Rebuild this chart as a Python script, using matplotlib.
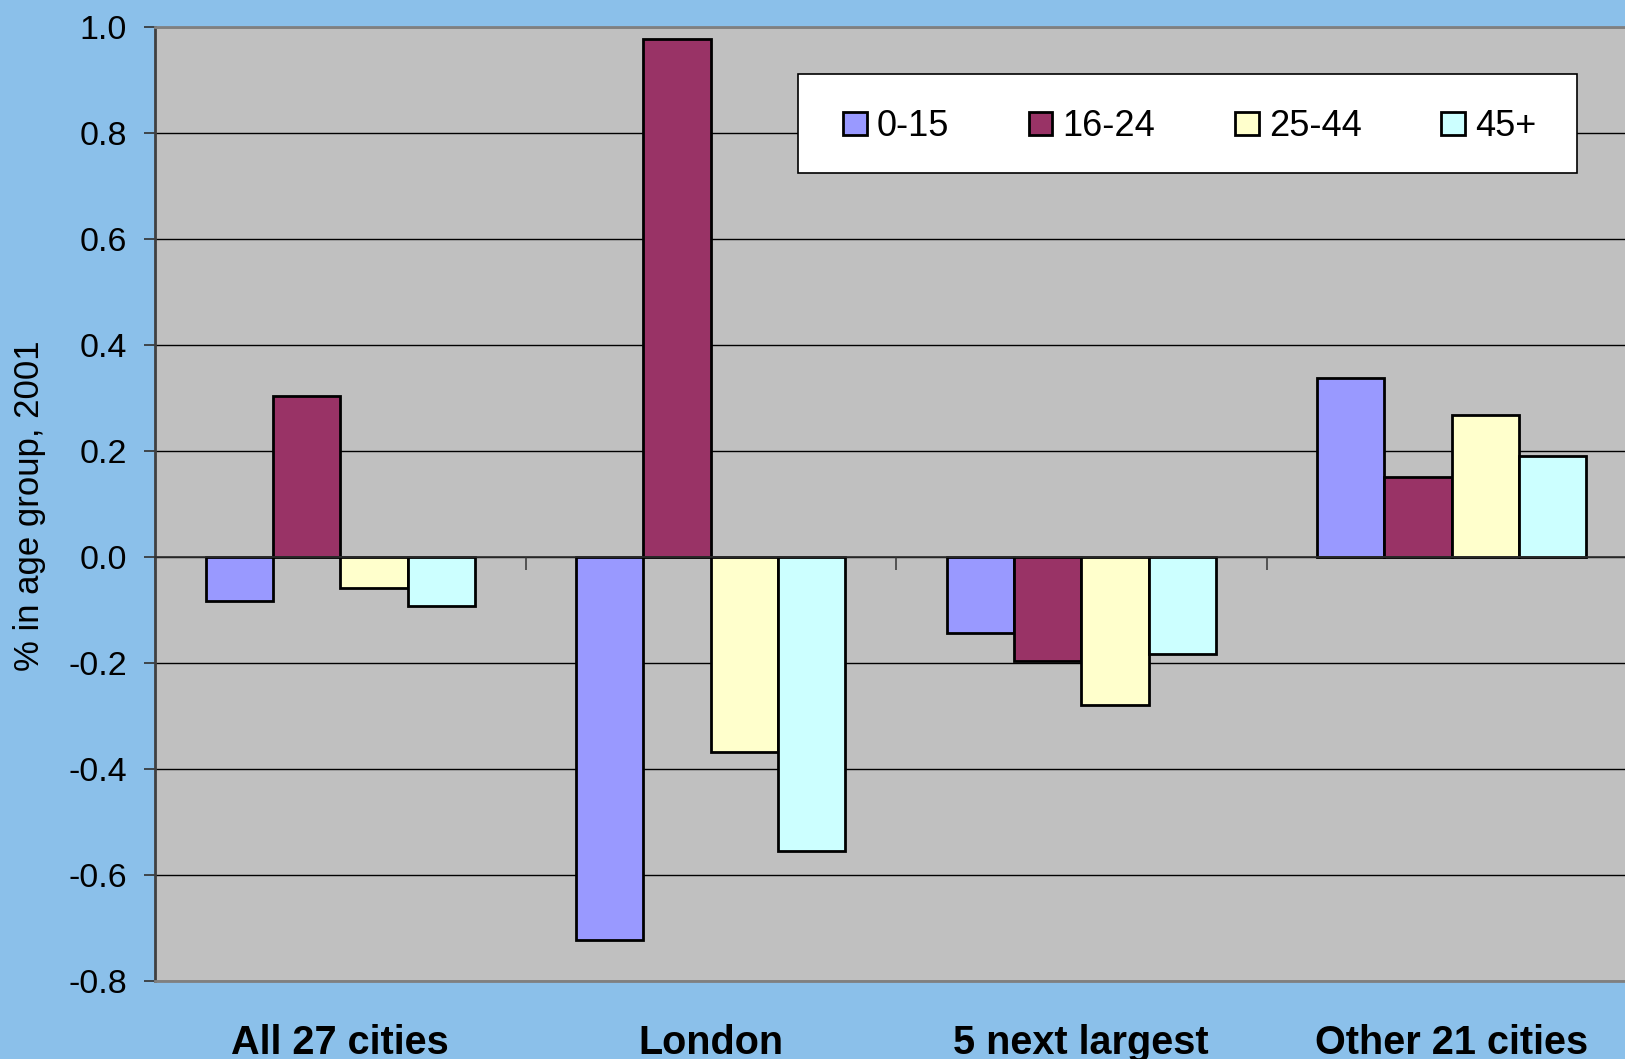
import numpy as np
import matplotlib.pyplot as plt
from matplotlib.patches import Rectangle

# values
categories = ['All 27 cities', 'London', '5 next largest', 'Other 21 cities']
age_groups = ['0-15', '16-24', '25-44', '45+']
vals_0_15 = [-0.083, -0.722, -0.144, 0.337]
vals_16_24 = [0.304, 0.977, -0.196, 0.151]
vals_25_44 = [-0.058, -0.367, -0.279, 0.267]
vals_45_plus = [-0.093, -0.554, -0.183, 0.191]
colors = ['#9999FF', '#993366', '#FFFFCC', '#CCFFFF']

plt.rcParams['font.family'] = ['Liberation Sans', 'DejaVu Sans']

W, H = 1625, 1059
fig = plt.figure(figsize=(W / 100, H / 100), dpi=100)
fig.patch.set_facecolor('#8BC0EA')

# plot area runs past the right edge of the picture, like the original
left, right, top, bottom = 155, 1637, 27, 981
ax = fig.add_axes([left / W, 1 - bottom / H, (right - left) / W, (bottom - top) / H])
ax.set_facecolor('#C0C0C0')
ax.set_axisbelow(True)

series = [vals_0_15, vals_16_24, vals_25_44, vals_45_plus]
n = len(categories)
idx = np.arange(n)
gap = 1.5  # excel gap width 150%
bw = 1 / (len(series) + gap)
for k, (vals, lab, col) in enumerate(zip(series, age_groups, colors)):
    xs = idx + (gap / 2 + k + 0.5) * bw
    ax.bar(xs, vals, width=bw, color=col, edgecolor='black', linewidth=2, label=lab, zorder=3)

ax.set_xlim(0, n)
ax.set_ylim(-0.8, 1.0)
ax.set_yticks(np.arange(-0.8, 1.01, 0.2))
ax.yaxis.set_major_formatter(plt.FuncFormatter(lambda v, p: f'{v:.1f}'.replace('-0.0', '0.0')))
ax.yaxis.grid(True, color='black', linewidth=1.0)
ax.tick_params(axis='y', direction='out', length=8, width=1.2, color='#303030',
               labelsize=24.5, pad=12)

ax.set_xticks(idx + 0.5)
ax.set_xticklabels(categories, fontsize=28.5, fontweight='bold')
ax.tick_params(axis='x', length=0, pad=31)

for s in ['top', 'right', 'bottom']:
    ax.spines[s].set_color('#808080')
    ax.spines[s].set_linewidth(2)
ax.spines['left'].set_color('#404040')
ax.spines['left'].set_linewidth(2)

# category axis crossing at zero, with its tick marks
ax2 = ax.twiny()
ax2.set_xlim(ax.get_xlim())
ax2.patch.set_visible(False)
for s in ['top', 'right', 'left']:
    ax2.spines[s].set_visible(False)
ax2.spines['bottom'].set_position(('data', 0))
ax2.spines['bottom'].set_color('#303030')
ax2.spines['bottom'].set_linewidth(1.2)
ax2.xaxis.set_ticks_position('bottom')
ax2.set_xticks(np.arange(n + 1))
ax2.set_xticklabels([])
ax2.tick_params(axis='x', direction='out', length=9.5, width=1.2, color='#404040')

fig.text(29.5 / W, 1 - 506 / H, '% in age group, 2001', rotation=90,
         ha='center', va='center', fontsize=25)

# legend box (white, black edge) with the entries centred inside it
bx0, by0, bx1, by1 = 798, 74, 1577, 173
box = Rectangle((bx0 / W, 1 - by1 / H), (bx1 - bx0) / W, (by1 - by0) / H,
                transform=fig.transFigure, facecolor='white', edgecolor='black',
                linewidth=1.2, zorder=9, clip_on=False)
ax2.add_patch(box)
leg = ax2.legend(*ax.get_legend_handles_labels(), ncol=4, loc='center',
                 bbox_to_anchor=((bx0 + bx1) / 2 / W + 2 / W, 1 - ((by0 + by1) / 2 + 3) / H),
                 bbox_transform=fig.transFigure, borderaxespad=0, fontsize=26,
                 handlelength=0.66, handleheight=0.6, handletextpad=0.28,
                 columnspacing=2.2, borderpad=0, frameon=False)
leg.set_zorder(10)

fig.savefig('out.png', dpi=100, facecolor=fig.get_facecolor())
